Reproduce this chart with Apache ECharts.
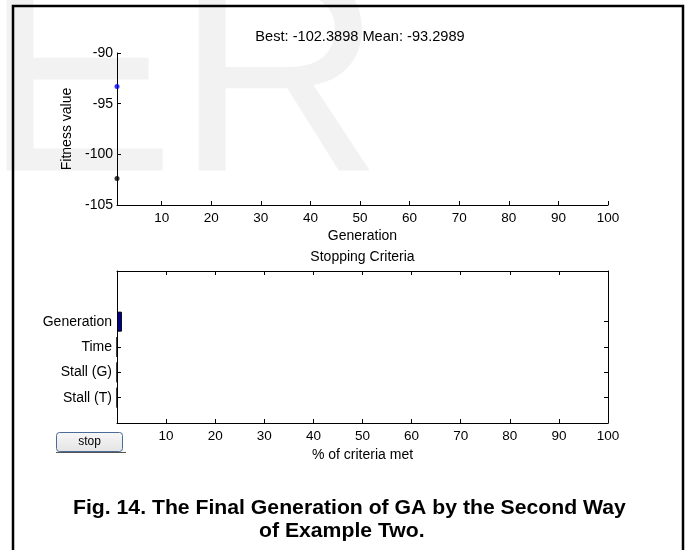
<!DOCTYPE html>
<html><head><meta charset="utf-8">
<script src="https://cdn.jsdelivr.net/npm/echarts@6/dist/echarts.min.js"></script>
<style>html,body{margin:0;padding:0;background:#fff}#c{width:691px;height:550px}</style>
</head><body><div id="c"></div>
<script>
// ---- data ----
const generations = [1];
const bestValues = [-102.3898];
const meanValues = [-93.2989];
const generationTicks = [10, 20, 30, 40, 50, 60, 70, 80, 90, 100];
const fitnessTicks = [-105, -100, -95, -90];
const criteria = ['Generation', 'Time', 'Stall (G)', 'Stall (T)'];
const criteriaMet = [1, 0, 0, 0];
const percentTicks = [10, 20, 30, 40, 50, 60, 70, 80, 90, 100];
const captionLines = ['Fig. 14. The Final Generation of GA by the Second Way', 'of Example Two.'];

// ---- build ----
const FONT = '"Liberation Sans", Arial, Helvetica, sans-serif';
const last = generations.length - 1;
const titleText = 'Best: ' + bestValues[last] + ' Mean: ' + meanValues[last];
// MATLAB barh axis: slots 0..6, criteria placed at 4..1 (top to bottom)
const slots = ['', ...criteria.slice().reverse(), '', ''];
const barData = slots.map(n => { const i = criteria.indexOf(n); return i >= 0 ? criteriaMet[i] : null; });
const lineS = { lineStyle: { color: '#000', width: 1 } };
const tickIn = { show: true, inside: true, length: 4, lineStyle: { color: '#000', width: 1 } };
const lbl = { color: '#000', fontSize: 13.5, fontFamily: FONT };

const chart = echarts.init(document.getElementById('c'));
chart.setOption({
  backgroundColor: '#fff',
  animation: false,
  grid: [
    { left: 117, top: 53, width: 491, height: 152 },
    { left: 117, top: 271, width: 491, height: 152 }
  ],
  xAxis: [
    { gridIndex: 0, type: 'value', min: 1, max: 100,
      axisLine: { show: true, onZero: false, ...lineS },
      axisTick: { ...tickIn, customValues: generationTicks },
      axisLabel: { ...lbl, margin: 6, customValues: generationTicks },
      splitLine: { show: false },
      name: 'Generation', nameLocation: 'middle', nameGap: 24,
      nameTextStyle: { color: '#000', fontSize: 14, fontFamily: FONT } },
    { gridIndex: 1, type: 'value', min: 0, max: 100, interval: 10,
      axisLine: { show: true, onZero: false, ...lineS },
      axisTick: tickIn,
      axisLabel: { ...lbl, margin: 6, customValues: percentTicks },
      splitLine: { show: false },
      name: '% of criteria met', nameLocation: 'middle', nameGap: 25,
      nameTextStyle: { color: '#000', fontSize: 14, fontFamily: FONT } },
    { gridIndex: 1, type: 'value', position: 'top', min: 0, max: 100, interval: 10,
      axisLine: { show: true, onZero: false, ...lineS },
      axisTick: tickIn, axisLabel: { show: false }, splitLine: { show: false } }
  ],
  yAxis: [
    { gridIndex: 0, type: 'value', min: -105, max: -90, interval: 5,
      axisLine: { show: true, onZero: false, ...lineS },
      axisTick: { ...tickIn, customValues: fitnessTicks },
      axisLabel: { ...lbl, fontSize: 14, margin: 4, customValues: fitnessTicks },
      splitLine: { show: false },
      name: 'Fitness value', nameLocation: 'middle', nameGap: 42, nameRotate: 90,
      nameTextStyle: { color: '#000', fontSize: 14, fontFamily: FONT } },
    { gridIndex: 1, type: 'category', data: slots, boundaryGap: false,
      axisLine: { show: true, onZero: false, ...lineS },
      axisTick: { ...tickIn, interval: (i, v) => v !== '' },
      axisLabel: { color: '#000', fontSize: 14, fontFamily: FONT, margin: 5, interval: (i, v) => v !== '' },
      splitLine: { show: false } },
    { gridIndex: 1, type: 'category', data: slots, boundaryGap: false, position: 'right',
      axisLine: { show: true, onZero: false, ...lineS },
      axisTick: { ...tickIn, interval: (i, v) => v !== '' },
      axisLabel: { show: false }, splitLine: { show: false } }
  ],
  series: [
    { type: 'scatter', xAxisIndex: 0, yAxisIndex: 0, clip: false, symbolSize: 5,
      itemStyle: { color: '#0000ff' },
      data: generations.map((g, i) => [g, meanValues[i]]) },
    { type: 'scatter', xAxisIndex: 0, yAxisIndex: 0, clip: false, symbolSize: 5,
      itemStyle: { color: '#000000' },
      data: generations.map((g, i) => [g, bestValues[i]]) },
    { type: 'bar', xAxisIndex: 1, yAxisIndex: 1, barWidth: 20,
      itemStyle: { color: '#00008f', borderColor: '#000', borderWidth: 1 },
      data: barData }
  ],
  graphic: [
    { type: 'text', z: -100, x: -17, y: -53,
      style: { text: 'ER', fontSize: 288, fontFamily: FONT, fill: '#f2f2f2', verticalAlign: 'top' } },
    { type: 'rect', z: 100, shape: { x: 13, y: 6, width: 670, height: 600 },
      style: { fill: 'none', stroke: '#000', lineWidth: 2.5 } },
    { type: 'text', x: 360, y: 37,
      style: { text: titleText, fontSize: 14.6, fontFamily: FONT, fill: '#000', align: 'center', verticalAlign: 'middle' } },
    { type: 'text', x: 362.5, y: 257,
      style: { text: 'Stopping Criteria', fontSize: 14, fontFamily: FONT, fill: '#000', align: 'center', verticalAlign: 'middle' } },
    { type: 'rect', shape: { x: 56.5, y: 432.5, width: 66, height: 19, r: 3 },
      style: { fill: new echarts.graphic.LinearGradient(0, 0, 0, 1, [{ offset: 0, color: '#f7f7f7' }, { offset: 1, color: '#e4e4e4' }]),
               stroke: '#4a6c96', lineWidth: 1 } },
    { type: 'line', shape: { x1: 56, y1: 452.5, x2: 126, y2: 452.5 },
      style: { stroke: '#555', lineWidth: 1 } },
    { type: 'text', x: 89.5, y: 442,
      style: { text: 'stop', fontSize: 12, fontFamily: FONT, fill: '#000', align: 'center', verticalAlign: 'middle' } },
    { type: 'text', x: 73, y: 508, scaleX: 1.06,
      style: { text: captionLines[0], fontSize: 20, fontWeight: 'bold', fontFamily: FONT, fill: '#000', align: 'left', verticalAlign: 'middle' } },
    { type: 'text', x: 259, y: 531.5, scaleX: 1.06,
      style: { text: captionLines[1], fontSize: 20, fontWeight: 'bold', fontFamily: FONT, fill: '#000', align: 'left', verticalAlign: 'middle' } }
  ]
});
</script></body></html>
